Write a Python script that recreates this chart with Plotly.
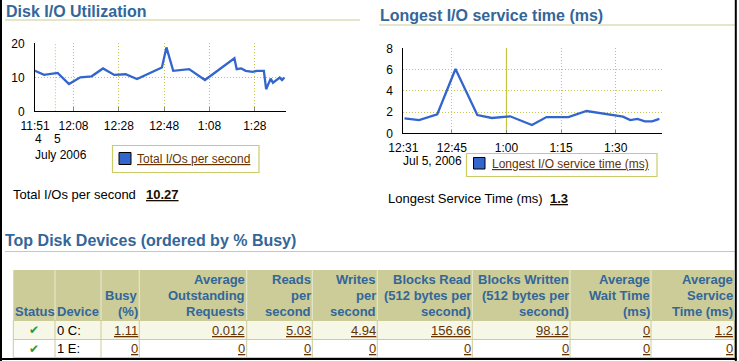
import plotly.graph_objects as go

W, H = 739, 361

# ---------------- data ----------------
io_times = ["2006-07-04 23:51", "2006-07-04 23:55", "2006-07-05 00:01", "2006-07-05 00:06",
            "2006-07-05 00:11", "2006-07-05 00:16", "2006-07-05 00:21", "2006-07-05 00:26",
            "2006-07-05 00:31", "2006-07-05 00:36", "2006-07-05 00:47", "2006-07-05 00:49",
            "2006-07-05 00:52", "2006-07-05 00:59", "2006-07-05 01:06", "2006-07-05 01:19",
            "2006-07-05 01:20", "2006-07-05 01:22", "2006-07-05 01:24", "2006-07-05 01:27",
            "2006-07-05 01:29", "2006-07-05 01:32", "2006-07-05 01:33", "2006-07-05 01:35",
            "2006-07-05 01:36", "2006-07-05 01:39", "2006-07-05 01:40", "2006-07-05 01:41"]
io_values = [11.9, 10.7, 11.3, 8.0, 10.0, 10.3, 12.6, 10.7, 10.9, 9.5, 12.9, 18.8, 11.9, 12.4,
             9.2, 15.6, 12.4, 12.6, 11.9, 11.6, 11.9, 11.9, 6.5, 9.6, 8.4, 9.9, 9.2, 9.9]

svc_times = ["2006-07-05 00:32", "2006-07-05 00:36", "2006-07-05 00:41", "2006-07-05 00:46",
             "2006-07-05 00:52", "2006-07-05 00:56", "2006-07-05 01:01", "2006-07-05 01:07",
             "2006-07-05 01:11", "2006-07-05 01:17", "2006-07-05 01:22", "2006-07-05 01:27",
             "2006-07-05 01:32", "2006-07-05 01:34", "2006-07-05 01:36", "2006-07-05 01:38",
             "2006-07-05 01:40", "2006-07-05 01:42"]
svc_values = [1.41, 1.25, 1.79, 6.05, 1.72, 1.44, 1.6, 0.78, 1.53, 1.53, 2.1, 1.82, 1.57,
              1.25, 1.35, 1.13, 1.13, 1.35]

io_tickvals = ["2006-07-04 23:51", "2006-07-05 00:08", "2006-07-05 00:28", "2006-07-05 00:48",
               "2006-07-05 01:08", "2006-07-05 01:28"]
io_ticktext = ["11:51", "12:08", "12:28", "12:48", "1:08", "1:28"]
svc_tickvals = ["2006-07-05 00:31:40", "2006-07-05 00:45", "2006-07-05 01:00",
                "2006-07-05 01:15", "2006-07-05 01:30"]
svc_ticktext = ["12:31", "12:45", "1:00", "1:15", "1:30"]

total_ios = "10.27"
longest_service = "1.3"

table_headers = ["Status", "Device", "Busy<br>(%)", "Average<br>Outstanding<br>Requests",
                 "Reads<br>per<br>second", "Writes<br>per<br>second",
                 "Blocks Read<br>(512 bytes per<br>second)",
                 "Blocks Written<br>(512 bytes per<br>second)",
                 "Average<br>Wait Time<br>(ms)", "Average<br>Service<br>Time (ms)"]
devices = ["0 C:", "1 E:"]
busy_pct = ["1.11", "0"]
avg_outstanding = ["0.012", "0"]
reads_per_sec = ["5.03", "0"]
writes_per_sec = ["4.94", "0"]
blocks_read = ["156.66", "0"]
blocks_written = ["98.12", "0"]
avg_wait = ["0", "0"]
avg_service = ["1.2", "0"]

# ---------------- styling ----------------
FONT = "Liberation Sans, Arial, sans-serif"
BLUE_T = "#336699"
LINK = "#663300"
OLIVE = "#cccc99"
GRID = "#c4c450"


def px(x):
    return x / W


def py(y):
    return 1 - y / H


annotations = []
shapes = []


def text(t, x, y, xa="left", ya="middle", size=13, color="black", align="left", family=FONT):
    annotations.append(dict(text=t, x=px(x), y=py(y), xref="paper", yref="paper",
                            xanchor=xa, yanchor=ya, showarrow=False, align=align,
                            borderpad=0, borderwidth=0,
                            font=dict(size=size, color=color, family=family)))


def line(x0, y0, x1, y1, color, width=1, dash="solid"):
    shapes.append(dict(type="line", xref="paper", yref="paper", x0=px(x0), y0=py(y0),
                       x1=px(x1), y1=py(y1), line=dict(color=color, width=width, dash=dash),
                       layer="below"))


def rect(x0, y0, x1, y1, fill, lc=None, lw=0, layer="below"):
    shapes.append(dict(type="rect", xref="paper", yref="paper", x0=px(x0), y0=py(y0),
                       x1=px(x1), y1=py(y1), fillcolor=fill,
                       line=dict(color=lc or fill, width=lw), layer=layer))


fig = go.Figure()
fig.add_trace(go.Scatter(x=io_times, y=io_values, mode="lines", xaxis="x", yaxis="y",
                         line=dict(color="#3366cc", width=2.3), showlegend=False,
                         hoverinfo="skip"))
fig.add_trace(go.Scatter(x=svc_times, y=svc_values, mode="lines", xaxis="x2", yaxis="y2",
                         line=dict(color="#3366cc", width=2.3), showlegend=False,
                         hoverinfo="skip"))

DOT = "1px,2px"
axis_common = dict(showgrid=True, gridcolor=GRID, griddash=DOT, gridwidth=1,
                   showline=True, linecolor="black", linewidth=1, zeroline=False,
                   automargin=False,
                   tickfont=dict(size=12, color="black", family=FONT))

fig.update_layout(
    template="none",
    width=W, height=H, margin=dict(l=0, r=0, t=0, b=0, autoexpand=False),
    paper_bgcolor="white", plot_bgcolor="white", showlegend=False,
    font=dict(family=FONT, size=12, color="black"),
    xaxis=dict(domain=[px(35), px(286)], anchor="y", type="date",
               range=["2006-07-04 23:51:00", "2006-07-05 01:41:46"],
               tickmode="array", tickvals=io_tickvals, ticktext=io_ticktext,
               ticks="inside", ticklen=4, tickcolor="#888888", ticklabelstandoff=3,
               **axis_common),
    yaxis=dict(domain=[py(111.3), py(43.3)], anchor="x", range=[0, 20],
               tickmode="array", tickvals=[0, 10, 20], ticks="", ticklabelstandoff=7,
               **axis_common),
    xaxis2=dict(domain=[px(403.3), px(661.7)], anchor="y2", type="date",
                range=["2006-07-05 00:31:40", "2006-07-05 01:42:38"],
                tickmode="array", tickvals=svc_tickvals, ticktext=svc_ticktext,
                ticks="inside", ticklen=3, tickcolor="#888888", ticklabelstandoff=3,
                **axis_common),
    yaxis2=dict(domain=[py(133.3), py(48.3)], anchor="x2", range=[0, 8],
                tickmode="array", tickvals=[0, 2, 4, 6, 8], ticks="", ticklabelstandoff=7,
                **axis_common),
)

# extra reference lines through the data scales
shapes.append(dict(type="line", xref="x", yref="y", x0="2006-07-05 00:00", x1="2006-07-05 00:00",
                   y0=0, y1=20, line=dict(color=GRID, width=1, dash=DOT), layer="below"))
shapes.append(dict(type="line", xref="x2", yref="y2", x0="2006-07-05 01:00", x1="2006-07-05 01:00",
                   y0=0, y1=8, line=dict(color="#c8c83c", width=1.2), layer="below"))

# ---------------- section titles ----------------
text("<b>Disk I/O Utilization</b>", 6, 11, size=16, color=BLUE_T)
line(5, 20, 360, 20, OLIVE, 1.2)
text("<b>Longest I/O service time (ms)</b>", 380, 15.5, size=16, color=BLUE_T)
line(379, 25, 736, 25, OLIVE, 1.2)
text("<b>Top Disk Devices (ordered by % Busy)</b>", 5, 241, size=16, color=BLUE_T)
line(5, 251.5, 735, 251.5, OLIVE, 1.2)

# ---------------- chart captions / legends ----------------
text("4", 38.5, 139, xa="center", size=12)
text("5", 57.5, 139, xa="center", size=12)
text("July 2006", 35, 155, size=12)
rect(112.5, 145.5, 259, 172.5, "white", "#cccc66", 1.2)
rect(119, 152.5, 131, 164.5, "#3366cc", "black", 1)
text("<u>Total I/Os per second</u>", 136.5, 158.5, color=LINK, size=12)

text("Jul 5, 2006", 403, 161, size=12)
rect(466.5, 153.5, 657, 176.5, "white", "#cccc66", 1.2)
rect(473.5, 157.5, 485, 169, "#3366cc", "black", 1)
text("<u>Longest I/O service time (ms)</u>", 491.5, 163.5, color=LINK, size=12)

text("Total I/Os per second", 13, 194)
text("<b><u>" + total_ios + "</u></b>", 145.5, 194, color="#1a0d00")
text("Longest Service Time (ms)", 388, 199)
text("<b><u>" + longest_service + "</u></b>", 550, 199, color="#1a0d00")

# ---------------- table ----------------
bounds = [13.3, 55, 101, 139.3, 246.7, 312.3, 377.3, 472.3, 570, 651, 734.3]
hy0, hy1, r1y, r2y = 270, 320.5, 339.5, 357.5
rect(bounds[0], hy0, bounds[-1], hy1, OLIVE)
rect(bounds[0], hy1, bounds[-1], r1y, "#f7f7e7")
rect(bounds[0], r1y, bounds[-1], r2y, "white")
for b in bounds[1:-1]:
    line(b, hy0, b, hy1, "#e9e9d4", 1)
for b in bounds:
    line(b, hy1, b, r2y, OLIVE, 1)
for yy in (hy1, r1y, r2y):
    line(bounds[0], yy, bounds[-1], yy, OLIVE, 1)

line_y = [311.7, 295.2, 279.0]  # header text lines, bottom-up
for i, h in enumerate(table_headers):
    parts = h.split("<br>")[::-1]
    for k, part in enumerate(parts):
        t = "<b>" + part + "</b>"
        if i == 0:
            text(t, (bounds[0] + bounds[1]) / 2 + 0.5, line_y[k], xa="center", color=BLUE_T)
        elif i == 1:
            text(t, bounds[1] + 2, line_y[k], xa="left", color=BLUE_T)
        else:
            text(t, bounds[i + 1] - 1.5, line_y[k], xa="right", color=BLUE_T)

row_y = [330, 348.7]
value_cols = [busy_pct, avg_outstanding, reads_per_sec, writes_per_sec, blocks_read,
              blocks_written, avg_wait, avg_service]
for r in range(2):
    text("✔", (bounds[0] + bounds[1]) / 2, row_y[r], xa="center", size=12, color="#2f9a2f",
         family="DejaVu Sans")
    text(devices[r], bounds[1] + 1.5, row_y[r])
    for c, col in enumerate(value_cols):
        text("<u>" + col[r] + "</u>", bounds[c + 3] - 1.5, row_y[r], xa="right", color=LINK)

# ---------------- page frame ----------------
shapes.append(dict(type="line", xref="paper", yref="paper", x0=px(1), x1=px(1), y0=0, y1=1,
                   line=dict(color="black", width=2)))
shapes.append(dict(type="line", xref="paper", yref="paper", x0=px(735.8), x1=px(735.8), y0=0,
                   y1=1, line=dict(color="black", width=2)))
shapes.append(dict(type="line", xref="paper", yref="paper", x0=0, x1=px(736.8), y0=py(359),
                   y1=py(359), line=dict(color="black", width=2)))

fig.update_layout(annotations=annotations, shapes=shapes)
fig.write_html("out.html", config={"displayModeBar": False},
               post_script="document.body.style.margin='0';document.body.style.overflow='hidden';")
